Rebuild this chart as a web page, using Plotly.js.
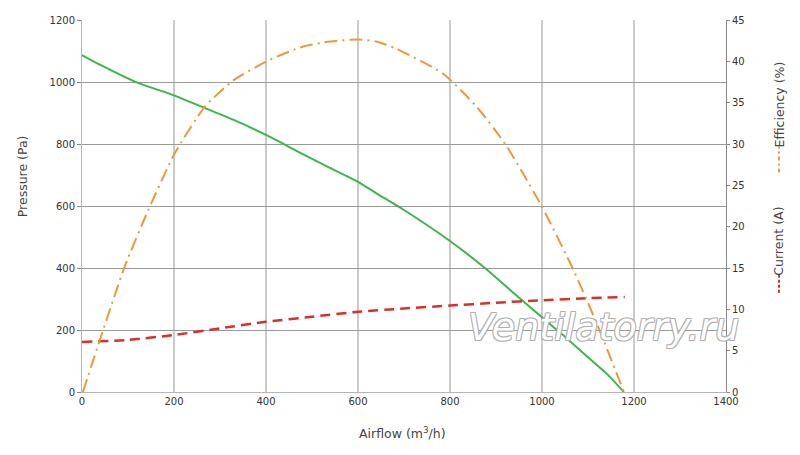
<!DOCTYPE html>
<html>
<head>
<meta charset="utf-8">
<script src="https://cdn.plot.ly/plotly-3.0.1.min.js"></script>
<style>
  html, body { margin: 0; padding: 0; background: #fff; }
  #chart { width: 800px; height: 455px; }
</style>
</head>
<body>
<div id="chart"></div>
<script>
// Pressure curve (left axis, Pa)
const airflowP = [0, 40, 120, 200, 270, 330, 410, 480, 540, 600, 640, 700, 800, 870, 930, 1000, 1050, 1100, 1140, 1178];
const pressure = [1087, 1055, 998, 957, 914, 878, 822, 767, 722, 678, 641, 587, 487, 407, 330, 241, 178, 112, 60, 0];

// Efficiency curve (right axis, %)
const airflowE = [2, 40, 93, 144, 202, 267, 329, 409, 481, 540, 600, 640, 684, 785, 858, 920, 1000, 1068, 1119, 1178];
const efficiency = [0, 6.5, 15.2, 22.0, 28.9, 34.5, 37.7, 40.2, 41.8, 42.4, 42.65, 42.4, 41.5, 38.5, 34.5, 30.0, 22.4, 14.8, 8.3, 0];

// Current curve (right axis, A)
const airflowC = [0, 100, 200, 300, 400, 500, 600, 700, 800, 900, 1000, 1100, 1180];
const current = [6.05, 6.3, 6.9, 7.7, 8.5, 9.1, 9.7, 10.1, 10.45, 10.8, 11.1, 11.35, 11.5];

const xTicks = [0, 200, 400, 600, 800, 1000, 1200, 1400];
const yTicks = [0, 200, 400, 600, 800, 1000, 1200];
const y2Ticks = [0, 5, 10, 15, 20, 25, 30, 35, 40, 45];

const FONT = 'DejaVu Sans, Verdana, sans-serif';

const traces = [
  {
    x: airflowP, y: pressure, type: 'scatter', mode: 'lines', name: 'Pressure (Pa)',
    line: { color: '#3db54a', width: 2, shape: 'spline', smoothing: 0.6 },
    yaxis: 'y'
  },
  {
    x: airflowC, y: current, type: 'scatter', mode: 'lines', name: 'Current (A)',
    line: { color: '#d8302b', width: 2.5, dash: '10px,6px', shape: 'spline', smoothing: 0.6 },
    yaxis: 'y2'
  },
  {
    x: airflowE, y: efficiency, type: 'scatter', mode: 'lines', name: 'Efficiency (%)',
    line: { color: '#ea9a3c', width: 2, dash: '13px,5px,2px,5px', shape: 'spline', smoothing: 0.6 },
    yaxis: 'y2'
  }
];

const layout = {
  width: 800, height: 455,
  margin: { l: 82, r: 74, t: 20, b: 63 },
  paper_bgcolor: '#ffffff',
  plot_bgcolor: '#ffffff',
  showlegend: false,
  font: { family: FONT, size: 10, color: '#333' },
  xaxis: {
    range: [0, 1400], tickvals: xTicks, ticktext: xTicks.map(String),
    showgrid: true, gridcolor: '#cbcbcb', gridwidth: 1.5,
    showline: true, linecolor: '#b5b5b5', linewidth: 1,
    ticks: '', zeroline: false,
    tickfont: { family: FONT, size: 10, color: '#333' }
  },
  yaxis: {
    range: [0, 1200], tickvals: yTicks, ticktext: yTicks.map(String),
    showgrid: true, gridcolor: '#9a9a9a', gridwidth: 1,
    showline: true, linecolor: '#b5b5b5', linewidth: 1,
    ticks: 'outside', ticklen: 4, tickcolor: '#888', zeroline: false,
    tickfont: { family: FONT, size: 10, color: '#333' }
  },
  yaxis2: {
    range: [0, 45], tickvals: y2Ticks, ticktext: y2Ticks.map(String),
    overlaying: 'y', side: 'right', showgrid: false,
    showline: true, linecolor: '#8a8a8a', linewidth: 1,
    ticks: 'outside', ticklen: 3, tickcolor: '#888', zeroline: false,
    tickfont: { family: FONT, size: 10, color: '#333' }
  },
  annotations: [
    {
      text: 'Airflow (m<sup>3</sup>/h)', xref: 'paper', yref: 'paper',
      x: 0.497, y: 0, xanchor: 'center', yanchor: 'middle', yshift: -41,
      showarrow: false, font: { family: FONT, size: 12.5, color: '#444' }
    },
    {
      text: 'Pressure (Pa)', xref: 'paper', yref: 'paper', textangle: -90,
      x: 0, xshift: -60, y: 0.58, xanchor: 'center', yanchor: 'middle',
      showarrow: false, font: { family: FONT, size: 12.5, color: '#444' }
    },
    {
      text: 'Efficiency (%)', xref: 'paper', yref: 'paper', textangle: -90,
      x: 1, xshift: 53, y: 0.773, xanchor: 'center', yanchor: 'middle',
      showarrow: false, font: { family: FONT, size: 12.5, color: '#444' }
    },
    {
      text: 'Current (A)', xref: 'paper', yref: 'paper', textangle: -90,
      x: 1, xshift: 53, y: 0.404, xanchor: 'center', yanchor: 'middle',
      showarrow: false, font: { family: FONT, size: 12.5, color: '#444' }
    },
    {
      text: 'Ventilatorry.ru', xref: 'paper', yref: 'paper',
      x: 0.81, y: 0.175, xanchor: 'center', yanchor: 'middle',
      showarrow: false,
      font: {
        family: FONT, size: 38, color: '#ffffff', style: 'italic',
        shadow: '1px 1px 0 #b0b0b0, -1px -1px 0 #b0b0b0, 1px -1px 0 #b0b0b0, -1px 1px 0 #b0b0b0'
      }
    }
  ],
  shapes: [
    {
      type: 'line', xref: 'paper', yref: 'paper',
      x0: 53, x1: 53, y0: 0.59, y1: 0.66, xsizemode: 'pixel', xanchor: 1,
      line: { color: '#ea9a3c', width: 2, dash: '4px,3px,2px,3px' }
    },
    {
      type: 'line', xref: 'paper', yref: 'paper',
      x0: 53, x1: 53, y0: 0.267, y1: 0.315, xsizemode: 'pixel', xanchor: 1,
      line: { color: '#d8302b', width: 2, dash: '3px,2px' }
    }
  ]
};

Plotly.newPlot('chart', traces, layout, { staticPlot: true, displayModeBar: false });
</script>
</body>
</html>
